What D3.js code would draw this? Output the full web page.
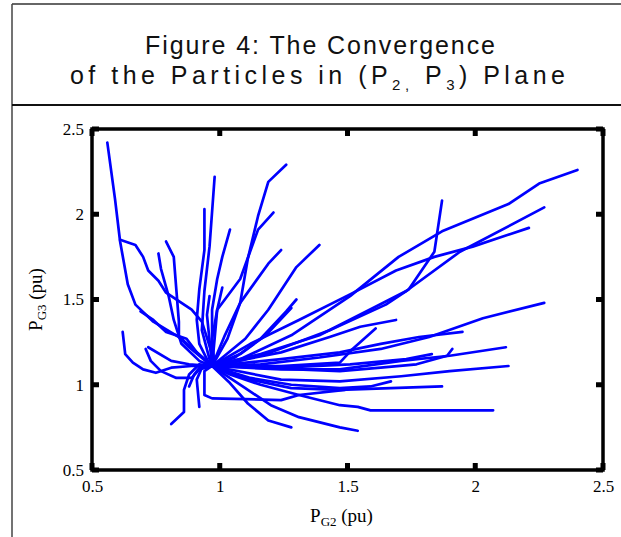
<!DOCTYPE html>
<html>
<head>
<meta charset="utf-8">
<title>Convergence of particles</title>
<script src="https://cdn.jsdelivr.net/npm/d3@7"></script>
<style>
  body { margin: 0; background: #fff; }
</style>
</head>
<body>
<script>
// particle trajectories, [P_G2, P_G3] in pu
var p01 = [[0.56,2.42],[0.59,2.09],[0.61,1.84],[0.64,1.59],[0.67,1.47],[0.74,1.37],[0.85,1.27],[0.97,1.11]];
var p02 = [[0.61,1.85],[0.67,1.82],[0.70,1.75],[0.72,1.67],[0.76,1.61],[0.79,1.54],[0.84,1.49],[0.89,1.44],[0.93,1.37],[0.97,1.18],[0.97,1.11]];
var p03 = [[0.79,1.84],[0.82,1.75],[0.83,1.56],[0.84,1.37],[0.84,1.28],[0.88,1.22],[0.96,1.12]];
var p04 = [[0.76,1.77],[0.77,1.68],[0.80,1.52],[0.82,1.38],[0.85,1.24],[0.92,1.14],[0.97,1.11]];
var p05 = [[0.98,2.22],[0.96,1.81],[0.94,1.55],[0.93,1.32],[0.96,1.15],[0.97,1.11]];
var p06 = [[0.94,2.03],[0.94,1.79],[0.92,1.56],[0.91,1.38],[0.92,1.24],[0.96,1.12]];
var p07 = [[1.04,1.91],[1.01,1.75],[0.99,1.62],[0.97,1.44],[0.97,1.11]];
var p08 = [[1.26,2.29],[1.19,2.19],[1.15,1.99],[1.11,1.74],[1.08,1.48],[1.03,1.27],[0.97,1.11]];
var p09 = [[1.21,2.01],[1.15,1.91],[1.08,1.62],[0.99,1.44],[0.97,1.27],[0.98,1.10]];
var p10 = [[1.24,1.79],[1.19,1.71],[1.08,1.48],[1.02,1.29],[0.97,1.11]];
var p11 = [[1.39,1.82],[1.30,1.69],[1.19,1.44],[1.10,1.27],[0.97,1.11]];
var p12 = [[1.30,1.50],[1.26,1.43],[1.16,1.27],[1.06,1.16],[0.97,1.11]];
var p13 = [[2.40,2.26],[2.25,2.18],[2.13,2.06],[1.87,1.90],[1.70,1.75],[1.51,1.52],[1.28,1.29],[1.08,1.15],[0.97,1.11]];
var p14 = [[2.27,2.04],[1.94,1.78],[1.73,1.55],[1.60,1.45],[1.39,1.29],[1.16,1.18],[0.97,1.11]];
var p15 = [[2.21,1.92],[1.99,1.81],[1.84,1.75],[1.69,1.67],[1.51,1.53],[1.31,1.38],[1.12,1.24],[0.97,1.11]];
var p16 = [[1.87,2.08],[1.84,1.78],[1.74,1.56],[1.65,1.47],[1.43,1.32],[1.20,1.19],[0.98,1.10]];
var p17 = [[2.27,1.48],[2.03,1.39],[1.82,1.28],[1.63,1.21],[1.39,1.16],[1.16,1.12],[0.97,1.11]];
var p18 = [[1.95,1.31],[1.78,1.28],[1.63,1.24],[1.47,1.19],[1.24,1.15],[0.97,1.11]];
var p19 = [[1.69,1.38],[1.55,1.34],[1.43,1.28],[1.24,1.19],[0.97,1.11]];
var p20 = [[1.61,1.33],[1.52,1.21],[1.47,1.13],[1.24,1.11],[0.97,1.11]];
var p21 = [[2.12,1.22],[1.90,1.17],[1.71,1.14],[1.47,1.09],[1.24,1.09],[0.97,1.11]];
var p22 = [[1.91,1.21],[1.89,1.17],[1.77,1.12],[1.63,1.10],[1.47,1.08],[0.97,1.11]];
var p23 = [[1.83,1.18],[1.73,1.15],[1.51,1.12],[1.24,1.10],[0.97,1.11]];
var p24 = [[2.13,1.11],[1.90,1.08],[1.71,1.05],[1.47,1.02],[1.24,1.03],[0.97,1.11]];
var p25 = [[1.67,1.02],[1.59,0.99],[1.47,0.98],[1.28,1.00],[1.12,1.04],[0.97,1.11]];
var p26 = [[1.87,0.99],[1.67,0.98],[1.47,0.97],[1.28,0.98],[1.12,1.03],[0.97,1.11]];
var p27 = [[2.07,0.85],[1.59,0.85],[1.54,0.87],[1.47,0.88],[1.31,0.94],[1.16,1.00],[1.04,1.06],[0.97,1.11]];
var p28 = [[1.54,0.73],[1.47,0.75],[1.31,0.81],[1.20,0.88],[1.10,0.98],[1.02,1.06],[0.97,1.11]];
var p29 = [[1.28,0.75],[1.19,0.79],[1.11,0.89],[1.04,1.01],[0.97,1.11]];
var p30 = [[1.49,0.97],[1.31,0.94],[1.24,0.91],[0.97,0.92],[0.94,0.94],[0.94,1.08],[0.97,1.11]];
var p31 = [[0.92,0.87],[0.91,1.03],[0.93,1.10],[0.97,1.11]];
var p32 = [[0.81,0.77],[0.86,0.84],[0.86,0.97],[0.88,1.06],[0.92,1.12],[0.97,1.11]];
var p33 = [[0.88,0.99],[0.90,1.06],[0.92,1.10],[0.97,1.11]];
var p34 = [[0.62,1.31],[0.63,1.18],[0.66,1.13],[0.70,1.09],[0.75,1.07],[0.81,1.10],[0.89,1.11],[0.97,1.11]];
var p35 = [[0.71,1.21],[0.73,1.14],[0.77,1.08],[0.83,1.04],[0.89,1.04],[0.92,1.09],[0.97,1.11]];
var p36 = [[0.72,1.22],[0.81,1.14],[0.88,1.12],[0.97,1.11]];
var p37 = [[0.69,1.43],[0.74,1.38],[0.79,1.31],[0.87,1.27],[0.91,1.19],[0.97,1.11]];
var p38 = [[1.01,1.57],[0.99,1.44],[0.98,1.27],[0.97,1.11]];
var p39 = [[0.96,1.52],[0.95,1.41],[0.97,1.11]];
var p40 = [[1.28,1.45],[1.18,1.29],[1.08,1.18],[0.97,1.11]];

var xTicks = [0.5, 1, 1.5, 2, 2.5];
var yTicks = [0.5, 1, 1.5, 2, 2.5];

var particles = [p01,p02,p03,p04,p05,p06,p07,p08,p09,p10,p11,p12,p13,p14,p15,p16,p17,p18,p19,p20,
                 p21,p22,p23,p24,p25,p26,p27,p28,p29,p30,p31,p32,p33,p34,p35,p36,p37,p38,p39,p40];

var width = 621, height = 537;
var margin = { top: 129, right: 18, bottom: 67, left: 92 };

var svg = d3.select("body").append("svg").attr("width", width).attr("height", height);

// frame around the whole figure
svg.append("line").attr("x1", 12).attr("y1", 4).attr("x2", width).attr("y2", 4)
  .attr("stroke", "#333").attr("stroke-width", 1.5);
svg.append("line").attr("x1", 12).attr("y1", 4).attr("x2", 12).attr("y2", height)
  .attr("stroke", "#444").attr("stroke-width", 1.5);
svg.append("line").attr("x1", 12).attr("y1", 105).attr("x2", width).attr("y2", 105)
  .attr("stroke", "#111").attr("stroke-width", 2);

// title
var title = svg.append("g")
  .attr("font-family", "'Liberation Sans', Arial, sans-serif")
  .attr("font-size", "25px").attr("fill", "#111");
title.append("text").attr("x", 145).attr("y", 54)
  .attr("textLength", 350).attr("lengthAdjust", "spacing")
  .text("Figure 4: The Convergence");
var t2 = title.append("text").attr("x", 70).attr("y", 84)
  .attr("textLength", 495).attr("lengthAdjust", "spacing");
t2.append("tspan").text("of the Particles in (P");
t2.append("tspan").attr("font-size", "15px").attr("dy", 6).text("2,");
t2.append("tspan").attr("dy", -6).text(" P");
t2.append("tspan").attr("font-size", "15px").attr("dy", 6).text("3");
t2.append("tspan").attr("dy", -6).text(") Plane");

// scales
var x = d3.scaleLinear().domain([0.5, 2.5]).range([margin.left, width - margin.right]);
var y = d3.scaleLinear().domain([0.5, 2.5]).range([height - margin.bottom, margin.top]);

// trajectories
var line = d3.line().x(function(d) { return x(d[0]); }).y(function(d) { return y(d[1]); });
svg.append("g").selectAll("path").data(particles).enter().append("path")
  .attr("d", line)
  .attr("fill", "none")
  .attr("stroke", "#0000ff")
  .attr("stroke-width", 2.7)
  .attr("stroke-linejoin", "round")
  .attr("stroke-linecap", "round");

// box
svg.append("rect")
  .attr("x", x(0.5)).attr("y", y(2.5))
  .attr("width", x(2.5) - x(0.5)).attr("height", y(0.5) - y(2.5))
  .attr("fill", "none").attr("stroke", "#000").attr("stroke-width", 3.5);

// inward square ticks on all four sides
var tk = svg.append("g").attr("fill", "#000");
xTicks.forEach(function(v) {
  tk.append("rect").attr("x", x(v) - 2.5).attr("y", y(0.5) - 7).attr("width", 5).attr("height", 7);
  tk.append("rect").attr("x", x(v) - 2.5).attr("y", y(2.5)).attr("width", 5).attr("height", 7);
});
yTicks.forEach(function(v) {
  tk.append("rect").attr("x", x(0.5)).attr("y", y(v) - 2.5).attr("width", 7).attr("height", 5);
  tk.append("rect").attr("x", x(2.5) - 7).attr("y", y(v) - 2.5).attr("width", 7).attr("height", 5);
});

// tick labels
var fmt = d3.format("");
var axX = d3.axisBottom(x).tickValues(xTicks).tickFormat(fmt).tickSize(0).tickPadding(10);
var gx = svg.append("g").attr("transform", "translate(0," + y(0.5) + ")").call(axX);
gx.select(".domain").remove();
gx.selectAll("text").attr("font-family", "'Liberation Serif', 'Times New Roman', serif")
  .attr("font-size", "17px").attr("fill", "#000");

var axY = d3.axisLeft(y).tickValues(yTicks).tickFormat(fmt).tickSize(0).tickPadding(8);
var gy = svg.append("g").attr("transform", "translate(" + x(0.5) + ",0)").call(axY);
gy.select(".domain").remove();
gy.selectAll("text").attr("font-family", "'Liberation Serif', 'Times New Roman', serif")
  .attr("font-size", "17px").attr("fill", "#000");

// axis labels
var xl = svg.append("text")
  .attr("x", (x(0.5) + x(2.5)) / 2 - 6).attr("y", 522)
  .attr("text-anchor", "middle")
  .attr("font-family", "'Liberation Serif', 'Times New Roman', serif")
  .attr("font-size", "19px").attr("fill", "#000");
xl.append("tspan").text("P");
xl.append("tspan").attr("font-size", "13px").attr("dy", 4).text("G2");
xl.append("tspan").attr("dy", -4).text(" (pu)");

var yl = svg.append("text")
  .attr("transform", "translate(42," + ((y(0.5) + y(2.5)) / 2) + ") rotate(-90)")
  .attr("text-anchor", "middle")
  .attr("font-family", "'Liberation Serif', 'Times New Roman', serif")
  .attr("font-size", "19px").attr("fill", "#000");
yl.append("tspan").text("P");
yl.append("tspan").attr("font-size", "13px").attr("dy", 4).text("G3");
yl.append("tspan").attr("dy", -4).text(" (pu)");
</script>
</body>
</html>
